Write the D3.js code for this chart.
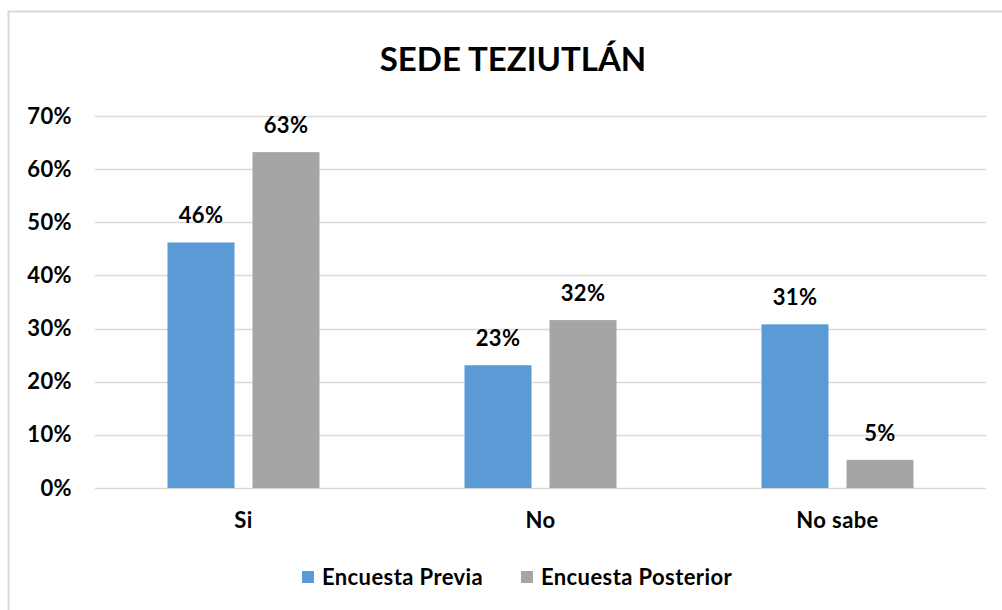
<!DOCTYPE html>
<html>
<head>
<meta charset="utf-8">
<script src="https://cdn.jsdelivr.net/npm/d3@7"></script>
<style>
	body { margin: 0; background: #fff; }
	svg { display: block; font-family: Lato, "Open Sans", sans-serif; }
	.lbl { font-size: 22px; font-weight: bold; letter-spacing: 0.4px; font-family: Lato, sans-serif; }
</style>
</head>
<body>
<svg id="chart" width="1002" height="610"></svg>
<script>
// Chart data
const categories = ["Si", "No", "No sabe"];
const seriesNames = ["Encuesta Previa", "Encuesta Posterior"];
const previa = [0.462, 0.231, 0.308];
const posterior = [0.632, 0.316, 0.053];
const yTicks = [0, 0.1, 0.2, 0.3, 0.4, 0.5, 0.6, 0.7];
const colors = ["#5B9BD5", "#A5A5A5"];

const svg = d3.select("#chart");

// outer frame of the chart area
svg.append("rect")
	.attr("x", 8.5).attr("y", 11.5)
	.attr("width", 1010).attr("height", 620)
	.attr("fill", "#fff")
	.attr("stroke", "#d9d9d9")
	.attr("stroke-width", 2);

svg.append("text")
	.attr("x", 513).attr("y", 71)
	.attr("text-anchor", "middle")
	.style("font-size", "33px")
	.style("font-weight", "bold")
	.text("SEDE TEZIUTLÁN");

const plot = { left: 95, right: 986, top: 116, bottom: 488 };

const x = d3.scaleBand()
	.domain(categories)
	.range([plot.left, plot.right]);

// two bars of 67px with an 18px gap inside each category
const x1 = d3.scaleBand()
	.domain(seriesNames)
	.range([0, 152])
	.paddingInner(18 / 85);

const y = d3.scaleLinear()
	.domain([0, 0.7])
	.range([plot.bottom, plot.top]);

// gridlines
svg.append("g")
	.selectAll("line")
	.data(yTicks)
	.join("line")
	.attr("x1", plot.left).attr("x2", plot.right)
	.attr("y1", (d) => Math.round(y(d)) + 0.5)
	.attr("y2", (d) => Math.round(y(d)) + 0.5)
	.attr("stroke", "#d9d9d9")
	.attr("stroke-width", 1.5);

// y axis labels
const yAxis = d3.axisLeft(y)
	.tickValues(yTicks)
	.tickFormat(d3.format(".0%"))
	.tickSize(0)
	.tickPadding(0);

const yg = svg.append("g")
	.attr("transform", `translate(72,0)`)
	.call(yAxis);
yg.select(".domain").remove();
yg.selectAll("text")
	.attr("class", "lbl")
	.attr("fill", "#000");

// x axis labels
const xAxis = d3.axisBottom(x).tickSize(0).tickPadding(0);
const xg = svg.append("g")
	.attr("transform", `translate(0,${plot.bottom + 24})`)
	.call(xAxis);
xg.select(".domain").remove();
xg.selectAll("text")
	.attr("class", "lbl")
	.attr("fill", "#000");

// bars
const rows = categories.map((c, i) => ({
	cat: c,
	values: [previa[i], posterior[i]],
}));

const groups = svg.append("g")
	.selectAll("g")
	.data(rows)
	.join("g")
	.attr("transform", (d) => `translate(${x(d.cat) + (x.bandwidth() - 152) / 2},0)`);

const bars = groups.selectAll("g")
	.data((d) => d.values.map((v, j) => ({ v: v, s: seriesNames[j], j: j })))
	.join("g");

bars.append("rect")
	.attr("x", (d) => x1(d.s))
	.attr("y", (d) => y(d.v))
	.attr("width", x1.bandwidth())
	.attr("height", (d) => y(0) - y(d.v))
	.attr("fill", (d) => colors[d.j]);

bars.append("text")
	.attr("class", "lbl")
	.attr("x", (d) => x1(d.s) + x1.bandwidth() / 2)
	.attr("y", (d) => y(d.v) - 19)
	.attr("text-anchor", "middle")
	.text((d) => d3.format(".0%")(d.v));

// legend
const legendX = [302, 521];
const legend = svg.append("g")
	.selectAll("g")
	.data(seriesNames)
	.join("g")
	.attr("transform", (d, i) => `translate(${legendX[i]},0)`);

legend.append("rect")
	.attr("x", 0).attr("y", 571)
	.attr("width", 12).attr("height", 12)
	.attr("fill", (d, i) => colors[i]);

legend.append("text")
	.attr("class", "lbl")
	.attr("x", 20).attr("y", 585)
	.text((d) => d);
</script>
</body>
</html>
